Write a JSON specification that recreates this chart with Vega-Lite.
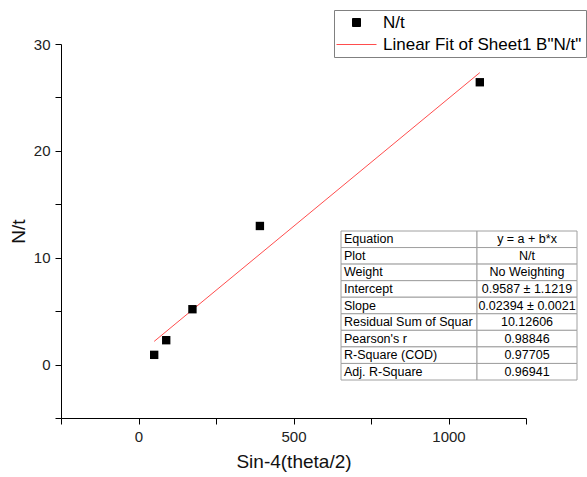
{
  "$schema": "https://vega.github.io/schema/vega-lite/v6.json",
  "width": 465,
  "height": 374,
  "autosize": {"type": "none"},
  "padding": {"left": 61, "top": 44, "right": 61, "bottom": 59},
  "background": "white",
  "config": {
    "view": {"stroke": null},
    "font": "Liberation Sans",
    "axis": {
      "grid": false,
      "domainColor": "black",
      "tickColor": "black",
      "labelColor": "#222222",
      "labelFont": "Liberation Sans",
      "labelFontSize": 15,
      "titleFont": "Liberation Sans",
      "titleFontSize": 19,
      "titleFontWeight": "normal",
      "titleColor": "#111111",
      "tickSize": 6,
      "labelPadding": 5
    }
  },
  "datasets": {
    "points": [
      {"x": 50.6, "y": 0.91, "series": "N/t"},
      {"x": 89.4, "y": 2.28, "series": "N/t"},
      {"x": 174, "y": 5.18, "series": "N/t"},
      {"x": 391.6, "y": 12.97, "series": "N/t"},
      {"x": 1101, "y": 26.42, "series": "N/t"}
    ],
    "fit": [
      {"x": 50.6, "y": 2.17, "series": "Linear Fit of Sheet1 B\"N/t\""},
      {"x": 1101, "y": 27.32, "series": "Linear Fit of Sheet1 B\"N/t\""}
    ],
    "table": [
      {"item": "Equation", "value": "y = a + b*x"},
      {"item": "Plot", "value": "N/t"},
      {"item": "Weight", "value": "No Weighting"},
      {"item": "Intercept", "value": "0.9587 ± 1.1219"},
      {"item": "Slope", "value": "0.02394 ± 0.0021"},
      {"item": "Residual Sum of Squar", "value": "10.12606"},
      {"item": "Pearson's r", "value": "0.98846"},
      {"item": "R-Square (COD)", "value": "0.97705"},
      {"item": "Adj. R-Square", "value": "0.96941"}
    ]
  },
  "layer": [
    {
      "encoding": {
        "x": {
          "field": "x",
          "type": "quantitative",
          "scale": {"domain": [-250, 1250], "nice": false, "zero": false},
          "axis": {
            "title": "Sin-4(theta/2)",
            "values": [-250, 0, 250, 500, 750, 1000, 1250],
            "format": "d",
            "labelExpr": "datum.value % 500 === 0 ? datum.label : ''",
            "titlePadding": 8,
            "encode": {"ticks": {"update": {"y2": {"signal": "datum.value % 500 === 0 ? 6 : 3"}}}}
          }
        },
        "y": {
          "field": "y",
          "type": "quantitative",
          "scale": {"domain": [-5, 30], "nice": false, "zero": false},
          "axis": {
            "title": "N/t",
            "values": [-5, 0, 5, 10, 15, 20, 25, 30],
            "labelExpr": "datum.value % 10 === 0 ? datum.label : ''",
            "titlePadding": 5,
            "encode": {"ticks": {"update": {"x2": {"signal": "datum.value % 10 === 0 ? -6 : -3"}}}}
          }
        },
        "color": {
          "field": "series",
          "type": "nominal",
          "scale": {
            "domain": ["N/t", "Linear Fit of Sheet1 B\"N/t\""],
            "range": ["black", "#ff4d4d"]
          },
          "legend": {
            "title": null,
            "orient": "none",
            "legendX": 273,
            "legendY": -34,
            "padding": 4,
            "strokeColor": "#808080",
            "labelFont": "Liberation Sans",
            "labelFontSize": 17,
            "labelColor": "black",
            "labelLimit": 0,
            "symbolSize": 64,
            "symbolOffset": 10,
            "labelOffset": 18,
            "rowPadding": 4,
            "encode": {
              "symbols": {
                "update": {
                  "shape": {"signal": "datum.value === 'N/t' ? 'square' : 'M-5,0H5'"},
                  "fill": {"signal": "datum.value === 'N/t' ? 'black' : 'transparent'"},
                  "stroke": {"signal": "datum.value === 'N/t' ? 'transparent' : '#ff4d4d'"},
                  "strokeWidth": {"value": 1},
                  "opacity": {"value": 1}
                }
              }
            }
          }
        }
      },
      "layer": [
        {
          "data": {"name": "fit"},
          "mark": {"type": "line", "strokeWidth": 1}
        },
        {
          "data": {"name": "points"},
          "mark": {"type": "point", "shape": "square", "filled": true, "size": 70, "opacity": 1}
        }
      ]
    },
    {
      "data": {"name": "table"},
      "encoding": {
        "y": {
          "field": "item",
          "type": "nominal",
          "sort": null,
          "axis": null,
          "scale": {"type": "band", "range": [187, 336], "paddingInner": 0, "paddingOuter": 0}
        }
      },
      "layer": [
        {
          "mark": {"type": "rect", "fill": "white", "stroke": "#a0a0a0", "strokeWidth": 1},
          "encoding": {
            "x": {"datum": 0, "type": "quantitative", "axis": null, "scale": {"domain": [0, 1, 2], "range": [280, 416, 516], "nice": false, "zero": false}},
            "x2": {"datum": 1}
          }
        },
        {
          "mark": {"type": "rect", "fill": "white", "stroke": "#a0a0a0", "strokeWidth": 1},
          "encoding": {
            "x": {"datum": 1, "type": "quantitative"},
            "x2": {"datum": 2}
          }
        },
        {
          "mark": {"type": "text", "align": "left", "baseline": "middle", "dx": 3, "fontSize": 12.5, "font": "Liberation Sans", "color": "black"},
          "encoding": {
            "x": {"datum": 0, "type": "quantitative"},
            "text": {"field": "item"}
          }
        },
        {
          "mark": {"type": "text", "align": "center", "baseline": "middle", "fontSize": 12.5, "font": "Liberation Sans", "color": "black"},
          "encoding": {
            "x": {"datum": 1.5, "type": "quantitative"},
            "text": {"field": "value"}
          }
        }
      ]
    }
  ],
  "resolve": {"scale": {"x": "independent", "y": "independent"}}
}
